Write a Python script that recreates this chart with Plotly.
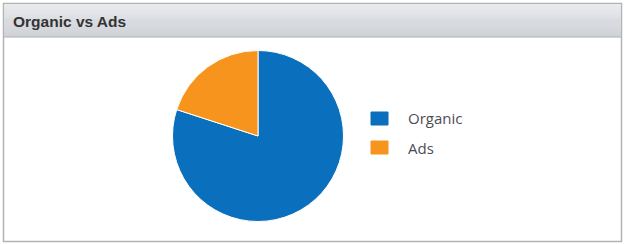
import plotly.graph_objects as go

# Traffic split shown in the panel
labels = ["Organic", "Ads"]
values = [80, 20]
colors = ["#0A6FBC", "#F7941E"]
title_text = "Organic vs Ads"

W, H = 625, 244


def px(x):
    return x / W


def py(y):
    return 1 - y / H


fig = go.Figure()

fig.add_trace(go.Pie(
    labels=labels,
    values=values,
    sort=False,
    direction="clockwise",
    rotation=0,
    textinfo="none",
    hoverinfo="label+percent",
    marker=dict(colors=colors, line=dict(color="#ffffff", width=1)),
    domain=dict(x=[px(172.5), px(343.5)], y=[py(221.5), py(50.5)]),
    showlegend=False,
))

shapes = []
annotations = []

# panel body and border
shapes.append(dict(type="rect", xref="paper", yref="paper",
                   x0=px(3.5), x1=px(621.5), y0=py(241.5), y1=py(3.5),
                   fillcolor="#ffffff", line=dict(color="#b3b3b3", width=1.5),
                   layer="below"))

# header with a vertical gradient built from thin bands
top, bottom = 4.2, 36.5
c0 = (230, 232, 236)
c1 = (200, 203, 209)
n = 32
step = (bottom - top) / n
for i in range(n):
    t = i / (n - 1)
    c = tuple(round(a + (b - a) * t) for a, b in zip(c0, c1))
    shapes.append(dict(type="rect", xref="paper", yref="paper",
                       x0=px(4.2), x1=px(620.8),
                       y0=py(top + step * (i + 1) + 0.3), y1=py(top + step * i),
                       fillcolor="rgb(%d,%d,%d)" % c, line=dict(width=0),
                       layer="below"))
shapes.append(dict(type="line", xref="paper", yref="paper",
                   x0=px(4.2), x1=px(620.8), y0=py(37), y1=py(37),
                   line=dict(color="#a9acb3", width=1)))

annotations.append(dict(text="<b>%s</b>" % title_text, xref="paper", yref="paper",
                        x=px(11), y=py(21), xanchor="left", yanchor="middle",
                        showarrow=False,
                        font=dict(family="Liberation Sans, Arial", size=15.5, color="#333333")))

# legend drawn beside the pie
legend_y = [118.5, 147.5]
for lab, col, yy in zip(labels, colors, legend_y):
    shapes.append(dict(type="rect", xref="paper", yref="paper",
                       x0=px(371), x1=px(388), y0=py(yy + 6.5), y1=py(yy - 6.5),
                       fillcolor=col, line=dict(color=col, width=1)))
    annotations.append(dict(text=lab, xref="paper", yref="paper",
                            x=px(406), y=py(yy), xanchor="left", yanchor="middle",
                            showarrow=False,
                            font=dict(family="Open Sans, Arial", size=15, color="#4d4d55")))

fig.update_layout(
    width=W, height=H,
    margin=dict(l=0, r=0, t=0, b=0),
    paper_bgcolor="#ffffff",
    plot_bgcolor="#ffffff",
    shapes=shapes,
    annotations=annotations,
)

fig.write_html("out.html", config={"displayModeBar": False})
